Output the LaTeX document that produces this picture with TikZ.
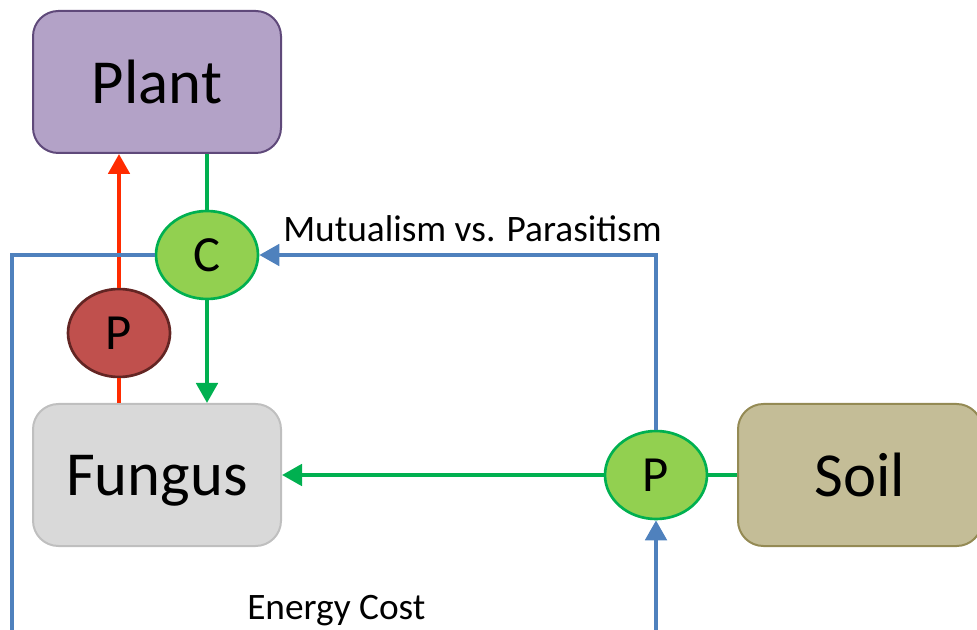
\documentclass[tikz,border=0pt]{standalone}
\usepackage{fontspec}
\setmainfont{Carlito}
\usetikzlibrary{shapes.geometric,arrows.meta}
\definecolor{plantfill}{HTML}{B3A2C7}
\definecolor{plantdraw}{HTML}{5F497A}
\definecolor{fungfill}{HTML}{D9D9D9}
\definecolor{fungdraw}{HTML}{BFBFBF}
\definecolor{soilfill}{HTML}{C4BD97}
\definecolor{soildraw}{HTML}{948A54}
\definecolor{gfill}{HTML}{92D050}
\definecolor{gline}{HTML}{00B050}
\definecolor{rfill}{HTML}{C0504D}
\definecolor{rdraw}{HTML}{632523}
\definecolor{rline}{HTML}{FF2B00}
\definecolor{bline}{HTML}{4F81BD}
\tikzset{
  boxnode/.style={rectangle,rounded corners=19pt,minimum width=186pt,minimum height=106.5pt,line width=1.5pt,font=\fontsize{47}{50}\selectfont,inner sep=0pt,text depth=0pt},
  ellnode/.style={ellipse,minimum width=76.5pt,minimum height=66pt,inner sep=0pt,line width=2pt,font=\fontsize{38}{40}\selectfont},
  conn/.style={line width=3pt},
  tip/.style={-{Triangle[length=15pt,width=16pt]}},
  lbl/.style={font=\fontsize{28}{32}\selectfont,inner sep=0pt}
}
\begin{document}
\begin{tikzpicture}[x=0.75pt,y=-0.75pt]
\useasboundingbox (0,0) rectangle (977,630);
\node[boxnode,fill=plantfill,draw=plantdraw] (plant) at (157,82) {Plant};
\node[boxnode,fill=fungfill,draw=fungdraw] (fungus) at (157,475) {Fungus};
\node[boxnode,fill=soilfill,draw=soildraw,minimum width=183pt] (soil) at (860,475) {Soil};
\node[ellnode,fill=gfill,draw=gline] (c) at (207,255) {C};
\node[ellnode,fill=rfill,draw=rdraw] (rp) at (119,333) {P};
\node[ellnode,fill=gfill,draw=gline] (gp) at (656,475) {P};
\coordinate (bl) at (12,632);
\coordinate (br) at (656,632);
% red
\draw[conn,rline,tip] (rp.north) -- (rp |- plant.south);
\draw[conn,rline] (rp.south) -- (rp |- fungus.north);
% green
\draw[conn,gline] (c.north) -- (c |- plant.south);
\draw[conn,gline,tip] (c.south) -- (c |- fungus.north);
\draw[conn,gline,tip] (gp.west) -- (fungus.east);
\draw[conn,gline] (gp.east) -- (soil.west);
% blue
\draw[conn,bline] (bl) |- (c.west);
\draw[conn,bline,tip] (br) -- (gp.south);
\draw[conn,bline,tip] (gp.north) |- (c.east);
% labels
\node[lbl,anchor=base west] (mut) at (283,242) {Mutualism vs. Parasitism};
\node[lbl,anchor=base west] (en) at (247,619) {Energy Cost};
\end{tikzpicture}
\end{document}
